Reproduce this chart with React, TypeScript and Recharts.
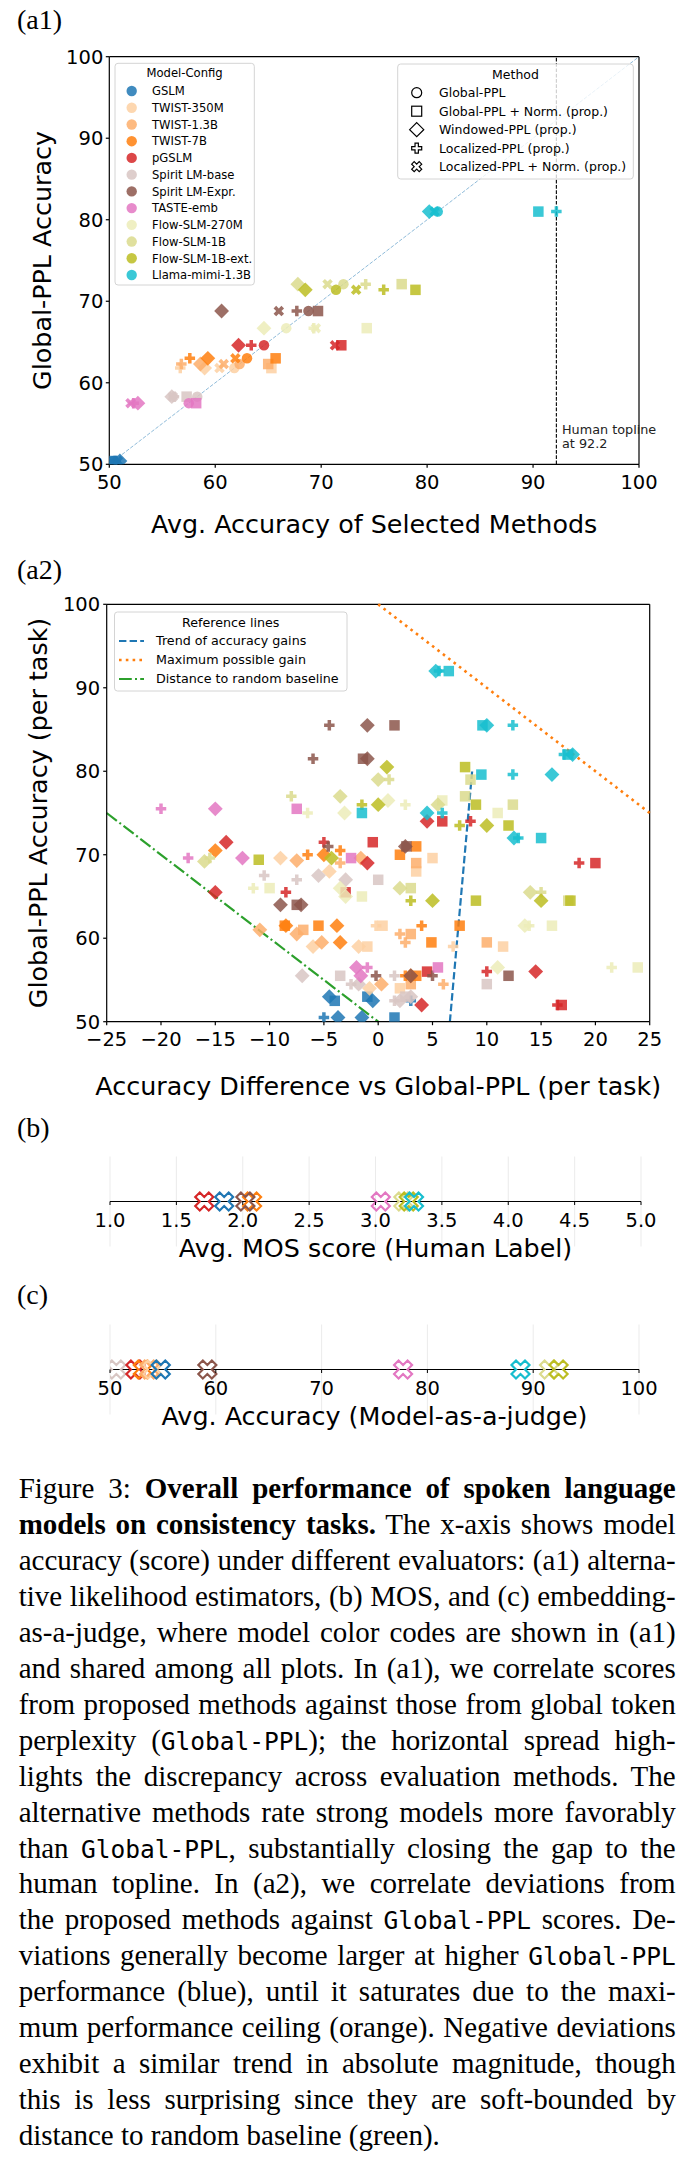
import React from "react";
import { CartesianGrid, Legend, ReferenceLine, Scatter, ScatterChart, XAxis, YAxis } from "recharts";

type Shape = "circle" | "square" | "diamond" | "plus" | "x";
type Pt = [number, number];

const SANS = '"DejaVu Sans", Verdana, sans-serif';
const SERIF = '"Liberation Serif", "Times New Roman", serif';
const MONO = '"DejaVu Sans Mono", monospace';

// model roster, colour codes shared by every panel
const MODELS = [
  "GSLM", "TWIST-350M", "TWIST-1.3B", "TWIST-7B", "pGSLM", "Spirit LM-base",
  "Spirit LM-Expr.", "TASTE-emb", "Flow-SLM-270M", "Flow-SLM-1B", "Flow-SLM-1B-ext.", "Llama-mimi-1.3B",
];
const COLORS = [
  "#1f77b4", "#fdd0a2", "#fdae6b", "#ff7f0e", "#d62728", "#d8c6c3",
  "#8c564b", "#e377c2", "#ececb9", "#dbdb8d", "#bcbd22", "#17becf",
];
const colorOf = (name: string) => COLORS[MODELS.indexOf(name)];

const METHODS = [
  "Global-PPL", "Global-PPL + Norm. (prop.)", "Windowed-PPL (prop.)",
  "Localized-PPL (prop.)", "Localized-PPL + Norm. (prop.)",
];
const METHOD_SHAPES: Shape[] = ["circle", "square", "diamond", "plus", "x"];

// (a1) Global-PPL accuracy per model (y) and the average accuracy of each method (x)
const GLOBAL_PPL = [50.4, 61.8, 62.3, 63.0, 64.6, 58.3, 68.8, 57.5, 66.7, 72.1, 71.4, 81.0];
const NORM_PPL = [50.3, 65.3, 65.0, 65.7, 71.9, 57.3, 69.7, 58.2, 74.3, 77.6, 78.9, 90.5];
const WINDOWED_PPL = [51.0, 59.0, 58.6, 59.3, 62.2, 55.9, 60.6, 52.7, 64.6, 67.8, 68.5, 80.2];
const LOCAL_PPL = [50.6, 56.7, 56.8, 57.6, 63.4, 56.1, 67.7, 52.3, 69.3, 74.2, 75.9, 92.2];
const LOCAL_NORM_PPL = [50.8, 60.4, 60.8, 61.9, 71.3, 56.0, 66.0, 52.0, 69.5, 70.6, 73.3, 80.7];
const METHOD_SCORES = [GLOBAL_PPL, NORM_PPL, WINDOWED_PPL, LOCAL_PPL, LOCAL_NORM_PPL];
const A1_TICKS = [50, 60, 70, 80, 90, 100];
const HUMAN_TOPLINE = 92.2;

// (a2) per-task points, one list per model: [difference vs Global-PPL, Global-PPL accuracy]
const A2_NORM: Pt[][] = [
  [[-4.0, 52.5], [-1.0, 53.0], [1.5, 50.5]],
  [[5.0, 69.6], [3.5, 68.0], [0.4, 61.5], [-1.0, 59.0], [11.5, 59.0], [2.0, 54.0]],
  [[3.5, 69.0], [-6.9, 61.0], [3.0, 60.5], [10.0, 59.5], [3.0, 54.5]],
  [[3.5, 71.0], [2.0, 70.0], [7.5, 61.5], [-5.5, 61.5], [-8.6, 61.5], [4.9, 59.5], [3.5, 55.5]],
  [[5.9, 74.0], [-0.5, 71.5], [20.0, 69.0], [-3.0, 65.5], [4.5, 56.0], [16.9, 52.0]],
  [[0.0, 67.0], [-3.5, 55.5], [10.0, 54.5], [2.5, 53.0]],
  [[1.5, 85.5], [-1.4, 81.5], [2.6, 71.0], [-7.5, 64.0], [12.0, 55.5]],
  [[-7.5, 75.5], [-2.5, 69.6], [5.5, 56.5]],
  [[5.9, 76.5], [11.0, 75.0], [-10.0, 66.0], [-1.5, 65.0], [16.0, 61.5], [23.9, 56.5]],
  [[8.5, 79.0], [8.0, 77.0], [12.4, 76.0], [3.0, 66.0], [17.5, 64.5]],
  [[8.0, 80.5], [9.0, 76.0], [12.0, 73.5], [-11.0, 69.4], [9.0, 64.5], [17.7, 64.5]],
  [[6.5, 92.0], [9.6, 85.5], [17.5, 82.0], [9.5, 79.6], [-1.5, 75.0], [15.0, 72.0]],
];
const A2_WINDOWED: Pt[][] = [
  [[-4.5, 53.0], [-0.5, 52.5], [-3.7, 50.5], [-1.5, 50.5]],
  [[-9.0, 69.6], [-4.5, 68.0], [-6.0, 59.0], [-1.8, 59.0], [-0.8, 54.0]],
  [[-7.5, 69.3], [-1.6, 69.6], [-10.9, 61.0], [-7.5, 60.5], [-5.2, 59.5], [0.3, 54.5]],
  [[-15.0, 70.5], [-5.0, 70.0], [-8.5, 61.5], [-3.8, 61.5], [-3.5, 59.5], [3.0, 55.5]],
  [[4.5, 74.0], [-14.0, 71.5], [-1.0, 69.0], [-15.0, 65.5], [14.5, 56.0], [4.0, 52.0]],
  [[-5.5, 67.5], [-3.0, 67.0], [-7.0, 55.5], [-1.8, 54.5], [2.0, 52.5], [3.0, 53.0]],
  [[-1.0, 85.5], [-1.0, 81.5], [2.5, 71.0], [-9.0, 64.0], [-7.1, 64.0], [3.0, 55.5]],
  [[-15.0, 75.5], [-12.5, 69.6], [-2.0, 56.5], [-1.6, 55.5]],
  [[0.9, 76.5], [-3.1, 75.0], [-3.5, 66.0], [-3.0, 65.0], [13.5, 61.5], [11.0, 56.5]],
  [[0.0, 79.0], [-3.5, 77.0], [5.5, 76.0], [-16.0, 69.2], [2.0, 66.0], [14.0, 65.5]],
  [[0.8, 80.5], [0.0, 76.0], [10.0, 73.5], [-4.3, 69.6], [5.0, 64.5], [15.0, 64.5]],
  [[5.3, 92.0], [10.0, 85.5], [17.9, 82.0], [16.0, 79.6], [4.5, 75.0], [12.5, 72.0]],
];
const A2_LOCAL: Pt[][] = [
  [[3.0, 52.5], [-5.0, 50.5]],
  [[6.9, 59.0], [-0.2, 61.5]],
  [[-3.5, 69.0], [2.0, 60.5], [2.5, 59.5], [6.0, 54.5]],
  [[-3.5, 70.5], [-6.5, 70.0], [4.0, 61.5], [2.5, 55.5]],
  [[8.5, 74.0], [-5.0, 71.5], [18.5, 69.0], [-8.5, 65.5], [10.0, 56.0], [16.5, 52.0]],
  [[-10.5, 67.5], [-7.5, 67.0], [1.5, 55.5], [-2.5, 54.5], [1.5, 52.5]],
  [[-4.5, 85.5], [-6.0, 81.5], [-4.6, 71.0], [-0.2, 55.5], [5.0, 55.5]],
  [[-20.0, 75.5], [-17.5, 69.6], [-1.0, 56.5]],
  [[2.5, 76.0], [-6.5, 75.0], [-11.5, 66.0], [13.9, 61.5], [21.5, 56.5]],
  [[1.0, 79.0], [-8.0, 77.0], [-15.5, 69.6], [15.0, 65.5]],
  [[-1.5, 76.0], [7.5, 73.5], [3.0, 64.5]],
  [[5.6, 92.0], [12.4, 85.5], [17.1, 82.0], [12.4, 79.6], [5.9, 75.0], [12.9, 72.0]],
];
const A2_SERIES: [Pt[][], Shape][] = [[A2_NORM, "square"], [A2_WINDOWED, "diamond"], [A2_LOCAL, "plus"]];
const A2_X_TICKS = [-25, -20, -15, -10, -5, 0, 5, 10, 15, 20, 25];
const A2_Y_TICKS = [50, 60, 70, 80, 90, 100];

// reference lines of (a2), as end points
const TREND_LINE = [{ x: 6.6, y: 50 }, { x: 8.65, y: 80 }];
const MAX_GAIN_LINE = [{ x: 0, y: 100 }, { x: 25, y: 75 }];
const RANDOM_LINE = [{ x: -25, y: 75 }, { x: 0, y: 50 }];
const REF_LABELS = ["Trend of accuracy gains", "Maximum possible gain", "Distance to random baseline"];

// (b) human MOS and (c) model-as-a-judge accuracy
const MOS_MODELS = ["pGSLM", "GSLM", "TWIST-7B", "Spirit LM-Expr.", "TASTE-emb", "Flow-SLM-1B", "Flow-SLM-1B-ext.", "Llama-mimi-1.3B"];
const MOS_SCORES = [1.71, 1.86, 2.07, 2.02, 3.04, 3.21, 3.25, 3.29];
const MOS_TICKS = [1, 1.5, 2, 2.5, 3, 3.5, 4, 4.5, 5];
const JUDGE_MODELS = ["Spirit LM-base", "pGSLM", "TWIST-7B", "TWIST-1.3B", "TWIST-350M", "GSLM", "Spirit LM-Expr.", "TASTE-emb", "Llama-mimi-1.3B", "Flow-SLM-1B", "Flow-SLM-1B-ext."];
const JUDGE_SCORES = [50.6, 52.4, 53.1, 53.7, 54.0, 54.8, 59.2, 77.7, 88.8, 91.5, 92.4];
const JUDGE_TICKS = [50, 60, 70, 80, 90, 100];

// matplotlib-like filled marker outlines ("P" and "X")
const PLUS_PTS = [[-1, -3], [1, -3], [1, -1], [3, -1], [3, 1], [1, 1], [1, 3], [-1, 3], [-1, 1], [-3, 1], [-3, -1], [-1, -1]];
const X_PTS = [[-1, -2], [0, -1], [1, -2], [2, -1], [1, 0], [2, 1], [1, 2], [0, 1], [-1, 2], [-2, 1], [-1, 0], [-2, -1]];

function Glyph({ shape, cx, cy, size, ...paint }: any) {
  const h = size / 2;
  if (shape === "circle") return <circle cx={cx} cy={cy} r={h} {...paint} />;
  if (shape === "square") return <rect x={cx - h} y={cy - h} width={size} height={size} {...paint} />;
  if (shape === "diamond") {
    const d = h * Math.SQRT2;
    return <polygon points={`${cx},${cy - d} ${cx + d},${cy} ${cx},${cy + d} ${cx - d},${cy}`} {...paint} />;
  }
  const pts = shape === "plus" ? PLUS_PTS : X_PTS;
  const k = shape === "plus" ? size / 6 : size / 4;
  return <polygon points={pts.map(([a, b]) => `${cx + a * k},${cy + b * k}`).join(" ")} {...paint} />;
}

const MARK = 10.5;
const SPINE = { stroke: "#000", strokeWidth: 1.2 };
const TICK = { fontSize: 19.5, fill: "#000", fontFamily: SANS };
const TITLE_SIZE = 25.4;
const minus = (v: number) => (v < 0 ? `\u2212${-v}` : `${v}`);

const xTitle = (text: string, dy: number) => (p: any) => {
  const vb = p.viewBox;
  return (
    <text x={vb.x + vb.width / 2} y={vb.y + dy} textAnchor="middle" fontSize={TITLE_SIZE} fontFamily={SANS} fill="#000">
      {text}
    </text>
  );
};
const yTitle = (text: string, x: number) => (p: any) => {
  const vb = p.viewBox;
  const cy = vb.y + vb.height / 2;
  return (
    <text x={x} y={cy} transform={`rotate(-90 ${x} ${cy})`} textAnchor="middle" fontSize={TITLE_SIZE} fontFamily={SANS} fill="#000">
      {text}
    </text>
  );
};

const toplineLabel = (p: any) => {
  const { x, y, height } = p.viewBox;
  const bottom = y + height;
  return (
    <text fontSize={12.8} fontFamily={SANS} fill="#222">
      <tspan x={x + 5.6} y={bottom - 30}>Human topline</tspan>
      <tspan x={x + 5.6} y={bottom - 16}>{`at ${HUMAN_TOPLINE}`}</tspan>
    </text>
  );
};

const overlay = (w: number, h: number) => ({ left: 0, top: 0, width: w, height: h, margin: 0, padding: 0 });

function A1Legends() {
  const row = (i: number) => 91 + 16.73 * i;
  const mrow = (i: number) => 92.7 + 18.5 * i;
  return (
    <svg width={694} height={545} style={{ position: "absolute", left: 0, top: 0 }} fontFamily={SANS}>
      <rect x={115} y={63.3} width={139.3} height={221.7} rx={3} fill="#fff" fillOpacity={0.8} stroke="#d4d4d4" />
      <text x={184.6} y={77.3} textAnchor="middle" fontSize={11.6}>Model-Config</text>
      {MODELS.map((m, i) => (
        <g key={m}>
          <circle cx={131.7} cy={row(i)} r={5.2} fill={COLORS[i]} fillOpacity={0.85} />
          <text x={152} y={row(i) + 4.3} fontSize={11.6}>{m}</text>
        </g>
      ))}
      <rect x={397.7} y={64} width={235.6} height={115} rx={3} fill="#fff" fillOpacity={0.8} stroke="#d4d4d4" />
      <text x={515.5} y={79.3} textAnchor="middle" fontSize={12.5}>Method</text>
      {METHODS.map((m, i) => (
        <g key={m}>
          <Glyph shape={METHOD_SHAPES[i]} cx={416.7} cy={mrow(i)} size={10} fill="none" stroke="#000" strokeWidth={1.2} />
          <text x={439} y={mrow(i) + 4.6} fontSize={12.5}>{m}</text>
        </g>
      ))}
    </svg>
  );
}

const REF_STYLES = [
  { color: "#1f77b4", dash: "7.4 3.2", width: 2.2 },
  { color: "#ff7f0e", dash: "2.6 4.2", width: 2.6 },
  { color: "#2ca02c", dash: "12.8 3.2 2 3.2", width: 2.2 },
];

function A2Legend() {
  const row = (i: number) => 96 + 19 * i;
  return (
    <svg width={694} height={565} style={{ position: "absolute", left: 0, top: 0 }} fontFamily={SANS}>
      <rect x={114.5} y={67} width={232.5} height={79} rx={3} fill="#fff" fillOpacity={0.8} stroke="#d4d4d4" />
      <text x={230.7} y={82.3} textAnchor="middle" fontSize={12.7}>Reference lines</text>
      {REF_LABELS.map((t, i) => (
        <g key={t}>
          <line x1={119} x2={144} y1={row(i)} y2={row(i)} stroke={REF_STYLES[i].color} strokeWidth={REF_STYLES[i].width} strokeDasharray={REF_STYLES[i].dash} />
          <text x={156} y={row(i) + 4.4} fontSize={12.7}>{t}</text>
        </g>
      ))}
    </svg>
  );
}

function PanelA1() {
  return (
    <ScatterChart width={694} height={545} margin={{ top: 56.7, right: 55, bottom: 0, left: 0 }}>
      <XAxis type="number" dataKey="x" domain={[50, 100]} ticks={A1_TICKS} interval={0} allowDataOverflow height={80.7}
        tickSize={3.5} tickMargin={7} tick={TICK} axisLine={SPINE} tickLine={SPINE}
        label={xTitle("Avg. Accuracy of Selected Methods", 69)} />
      <YAxis type="number" dataKey="y" domain={[50, 100]} ticks={A1_TICKS} interval={0} allowDataOverflow width={109.3}
        tickSize={3.5} tickMargin={2.5} tick={TICK} axisLine={SPINE} tickLine={SPINE}
        label={yTitle("Global-PPL Accuracy", 51)} />
      <ReferenceLine y={100} {...SPINE} />
      <ReferenceLine x={100} {...SPINE} />
      {MODELS.map((name, i) =>
        METHOD_SCORES.map((scores, m) => (
          <Scatter key={`${name}-${m}`} data={[{ x: scores[i], y: GLOBAL_PPL[i] }]} isAnimationActive={false}
            shape={(p: any) => <Glyph shape={METHOD_SHAPES[m]} cx={p.cx} cy={p.cy} size={MARK} fill={COLORS[i]} fillOpacity={0.85} />} />
        ))
      )}
      <ReferenceLine segment={[{ x: 50, y: 50 }, { x: 100, y: 100 }]} stroke="#1f77b4" strokeOpacity={0.5} strokeWidth={1} strokeDasharray="3.7 1.6" />
      <ReferenceLine x={HUMAN_TOPLINE} stroke="#000" strokeWidth={1.1} strokeDasharray="3.7 1.6" label={toplineLabel} />
      <Legend layout="horizontal" verticalAlign="middle" align="center" wrapperStyle={overlay(694, 545)} content={() => <A1Legends />} />
    </ScatterChart>
  );
}

function PanelA2() {
  return (
    <ScatterChart width={694} height={565} margin={{ top: 59.3, right: 44.3, bottom: 0, left: 0 }}>
      <XAxis type="number" dataKey="x" domain={[-25, 25]} ticks={A2_X_TICKS} interval={0} allowDataOverflow height={88.3}
        tickSize={3.5} tickMargin={6.5} tick={TICK} tickFormatter={minus} axisLine={SPINE} tickLine={SPINE}
        label={xTitle("Accuracy Difference vs Global-PPL (per task)", 73)} />
      <YAxis type="number" dataKey="y" domain={[50, 100]} ticks={A2_Y_TICKS} interval={0} allowDataOverflow width={106.7}
        tickSize={3.5} tickMargin={3} tick={TICK} axisLine={SPINE} tickLine={SPINE}
        label={yTitle("Global-PPL Accuracy (per task)", 47)} />
      <ReferenceLine y={100} {...SPINE} />
      <ReferenceLine x={25} {...SPINE} />
      {MODELS.map((name, i) =>
        A2_SERIES.map(([lists, shape]) => (
          <Scatter key={`${name}-${shape}`} data={lists[i].map(([x, y]) => ({ x, y }))} isAnimationActive={false}
            shape={(p: any) => <Glyph shape={shape} cx={p.cx} cy={p.cy} size={MARK} fill={COLORS[i]} fillOpacity={0.85} />} />
        ))
      )}
      <ReferenceLine segment={TREND_LINE} stroke={REF_STYLES[0].color} strokeWidth={REF_STYLES[0].width} strokeDasharray={REF_STYLES[0].dash} />
      <ReferenceLine segment={MAX_GAIN_LINE} stroke={REF_STYLES[1].color} strokeWidth={REF_STYLES[1].width} strokeDasharray={REF_STYLES[1].dash} />
      <ReferenceLine segment={RANDOM_LINE} stroke={REF_STYLES[2].color} strokeWidth={REF_STYLES[2].width} strokeDasharray={REF_STYLES[2].dash} />
      <Legend layout="horizontal" verticalAlign="middle" align="center" wrapperStyle={overlay(694, 565)} content={() => <A2Legend />} />
    </ScatterChart>
  );
}

// strip plots: the spine sits in the middle of a 90px-tall plot area
const STRIP_HALF = 45;
const stripTick = (fmt: (v: number) => string) => (p: any) => {
  const y0 = p.y - STRIP_HALF;
  return (
    <g>
      <line x1={p.x} x2={p.x} y1={y0} y2={y0 + 3.5} stroke="#000" strokeWidth={1} />
      <text x={p.x} y={y0 + 25} textAnchor="middle" fontSize={19.5} fontFamily={SANS} fill="#000">{fmt(p.payload.value)}</text>
    </g>
  );
};

function StripPanel({ names, scores, ticks, domain, fmt, title, right }: any) {
  return (
    <ScatterChart width={694} height={125} margin={{ top: 6.5, right, bottom: 0, left: 110 }}>
      <CartesianGrid horizontal={false} stroke="#e6e6e6" strokeWidth={0.8} />
      <XAxis type="number" dataKey="x" domain={domain} ticks={ticks} interval={0} allowDataOverflow height={28.5}
        axisLine={false} tickLine={false} tickSize={0} tickMargin={0} tick={stripTick(fmt)}
        label={xTitle(title, 10.5)} />
      <YAxis type="number" dataKey="y" domain={[-1, 1]} hide />
      <ReferenceLine y={0} {...SPINE} />
      {names.map((n: string, i: number) => (
        <Scatter key={n} data={[{ x: scores[i], y: 0 }]} isAnimationActive={false}
          shape={(p: any) => <Glyph shape="x" cx={p.cx} cy={p.cy} size={18} fill="none" stroke={colorOf(n)} strokeWidth={2.2} />} />
      ))}
    </ScatterChart>
  );
}

const mono = (s: string) => <span style={{ fontFamily: MONO, fontSize: 24.5, lineHeight: 1 }}>{s}</span>;
const CAPTION: React.ReactNode[] = [
  <>Figure 3: <b>Overall performance of spoken language</b></>,
  <><b>models on consistency tasks.</b> The x-axis shows model</>,
  <>accuracy (score) under different evaluators: (a1) alterna-</>,
  <>tive likelihood estimators, (b) MOS, and (c) embedding-</>,
  <>as-a-judge, where model color codes are shown in (a1)</>,
  <>and shared among all plots. In (a1), we correlate scores</>,
  <>from proposed methods against those from global token</>,
  <>perplexity ({mono("Global-PPL")}); the horizontal spread high-</>,
  <>lights the discrepancy across evaluation methods. The</>,
  <>alternative methods rate strong models more favorably</>,
  <>than {mono("Global-PPL")}, substantially closing the gap to the</>,
  <>human topline. In (a2), we correlate deviations from</>,
  <>the proposed methods against {mono("Global-PPL")} scores. De-</>,
  <>viations generally become larger at higher {mono("Global-PPL")}</>,
  <>performance (blue), until it saturates due to the maxi-</>,
  <>mum performance ceiling (orange). Negative deviations</>,
  <>exhibit a similar trend in absolute magnitude, though</>,
  <>this is less surprising since they are soft-bounded by</>,
  <>distance to random baseline (green).</>,
];

const Tag = ({ top, children }: any) => (
  <div style={{ position: "absolute", left: 17, top, fontFamily: SERIF, fontSize: 28, lineHeight: "28px" }}>{children}</div>
);

export default function App() {
  return (
    <div style={{ position: "absolute", left: 0, top: 0, width: 694, height: 2166, background: "#fff", overflow: "hidden" }}>
      <div style={{ position: "absolute", left: 0, top: 0 }}><PanelA1 /></div>
      <div style={{ position: "absolute", left: 0, top: 545 }}><PanelA2 /></div>
      <div style={{ position: "absolute", left: 0, top: 1150 }}>
        <StripPanel names={MOS_MODELS} scores={MOS_SCORES} ticks={MOS_TICKS} domain={[1, 5]} right={53}
          fmt={(v: number) => v.toFixed(1)} title="Avg. MOS score (Human Label)" />
      </div>
      <div style={{ position: "absolute", left: 0, top: 1318 }}>
        <StripPanel names={JUDGE_MODELS} scores={JUDGE_SCORES} ticks={JUDGE_TICKS} domain={[50, 100]} right={55}
          fmt={(v: number) => `${v}`} title="Avg. Accuracy (Model-as-a-judge)" />
      </div>
      <Tag top={5.5}>(a1)</Tag>
      <Tag top={556}>(a2)</Tag>
      <Tag top={1114}>(b)</Tag>
      <Tag top={1280.5}>(c)</Tag>
      <div style={{ position: "absolute", left: 18.7, top: 1471, width: 657, fontFamily: SERIF, fontSize: 29, color: "#000" }}>
        {CAPTION.map((line, i) => {
          const last = i === CAPTION.length - 1;
          return (
            <div key={i} style={{
              height: 35.96, lineHeight: "35.96px",
              textAlign: last ? "left" : "justify", textAlignLast: last ? "left" : "justify",
              wordSpacing: last ? 0 : -3,
            }}>
              {line}
            </div>
          );
        })}
      </div>
    </div>
  );
}
